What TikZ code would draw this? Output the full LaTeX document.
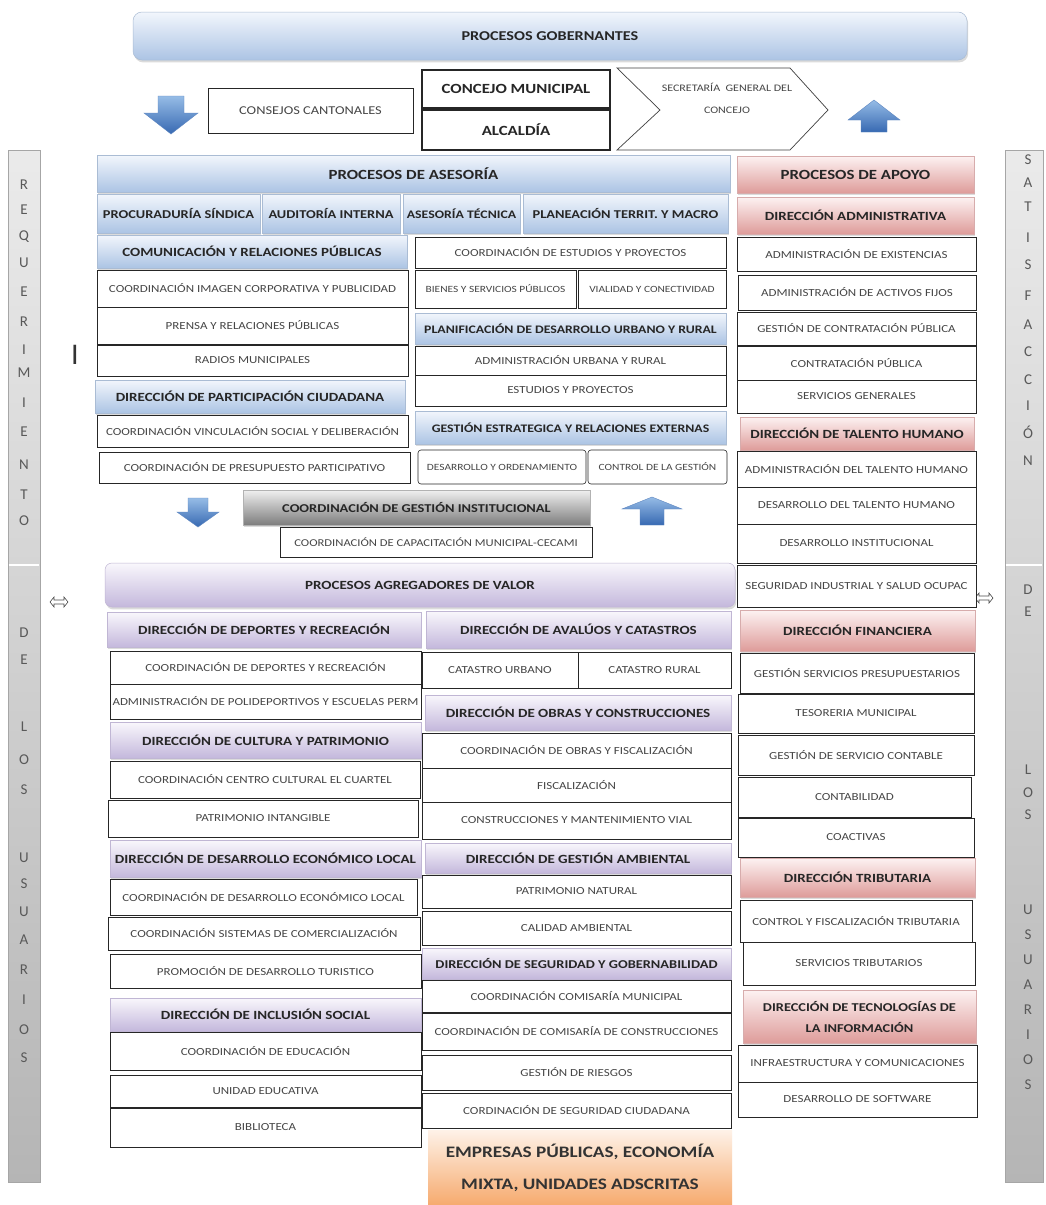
\documentclass[tikz,border=0pt]{standalone}
\usepackage{fontspec}
\setmainfont{Carlito}[FakeStretch=1.2]
\newfontfamily\barfont{Carlito}
\usetikzlibrary{shadows}

\definecolor{blueTop}{RGB}{242,246,252}
\definecolor{blueBot}{RGB}{172,196,228}
\definecolor{blueEdge}{RGB}{170,188,212}
\definecolor{pinkTop}{RGB}{253,242,242}
\definecolor{pinkBot}{RGB}{222,156,154}
\definecolor{pinkEdge}{RGB}{215,172,172}
\definecolor{lavTop}{RGB}{249,247,252}
\definecolor{lavBot}{RGB}{196,184,220}
\definecolor{lavEdge}{RGB}{192,182,212}
\definecolor{grayTop}{RGB}{240,240,240}
\definecolor{grayBot}{RGB}{125,125,125}
\definecolor{orTop}{RGB}{254,242,232}
\definecolor{orBot}{RGB}{246,170,110}
\definecolor{arrowTop}{RGB}{150,188,230}
\definecolor{arrowBot}{RGB}{55,105,178}
\definecolor{txt}{RGB}{70,70,70}

% box given by its corners (x1,y1) (x2,y2) in pixel units, y downwards
\newcommand\bx[7][]{%
  \node[#1, minimum width={(#5-#3)*1pt}, minimum height={(#6-#4)*1pt}]
    (#2) at ({(#3+#5)/2},{(#4+#6)/2}) {\makebox[0pt]{#7}};}
% same, for text on several lines
\newcommand\bxm[7][]{%
  \node[#1, minimum width={(#5-#3)*1pt}, minimum height={(#6-#4)*1pt}]
    (#2) at ({(#3+#5)/2},{(#4+#6)/2}) {#7};}

\tikzset{
  every node/.style={inner sep=1pt, outer sep=0pt, align=center},
  hb/.style={font=\bfseries\fontsize{#1}{16}\selectfont},
  rb/.style={font=\fontsize{#1}{12}\selectfont},
  unit/.style={draw=black!85, line width=0.9pt, fill=white, text=txt, rb=10.8},
  softshadow/.style={drop shadow={opacity=0.28, shadow xshift=1.2pt, shadow yshift=-2.4pt}},
  head/.style={softshadow, line width=0.5pt, text=black!85, hb=12.5},
  headB/.style={head, draw=blueEdge, top color=blueTop, bottom color=blueBot},
  headP/.style={head, draw=pinkEdge, top color=pinkTop, bottom color=pinkBot},
  headL/.style={head, draw=lavEdge, top color=lavTop, bottom color=lavBot},
  headG/.style={head, draw=gray!60, top color=grayTop, bottom color=grayBot},
  tier/.style={rounded corners=7pt, hb=13.5},
  blockarrow/.style={top color=arrowTop, bottom color=arrowBot, draw=arrowBot!80, line width=0.4pt},
  sidebar/.style={draw=gray!70, line width=0.6pt, top color=gray!16, bottom color=gray!58},
  barletter/.style={font=\barfont\fontsize{15}{15}\selectfont, text=black!65},
  dblarrow/.style={draw=black!70, line width=0.6pt, fill=white},
}

\begin{document}
\begin{tikzpicture}[x=1pt, y=-1pt]
\useasboundingbox (0,0) rectangle (1045,1205);
\fill[white] (0,0) rectangle (1045,1205);

% ---------- side bars ----------
\bx[sidebar]{lbar}{8}{150}{40}{1182}{}
\bx[sidebar]{rbar}{1005}{150}{1043}{1182}{}
\draw[white, line width=1.6pt] (8.6,565) -- (39.4,565);
\draw[white, line width=1.6pt] (1005.6,565) -- (1042.4,565);
\foreach \ch/\yy in {R/185, E/210, Q/237, U/263, E/292, R/322, I/350, M/373, I/403,
  E/432, N/465, T/495, O/521, D/633, E/660, L/727, O/760, S/790,
  U/858, S/884, U/912, A/940, R/970, I/1000, O/1030, S/1058}
  \node[barletter] (req\yy) at (24,\yy) {\ch};
\foreach \ch/\yy in {S/160, A/183, T/207, I/238, S/265, F/296, A/325, C/352, C/380,
  I/406, Ó/432, N/461, D/590, E/612, L/770, O/793, S/815,
  U/910, S/935, U/960, A/985, R/1010, I/1035, O/1060, S/1085}
  \node[barletter] (sat\yy) at (1028,\yy) {\ch};
\node[font=\barfont\fontsize{30}{30}\selectfont, text=black!80] (mark) at (75,355) {I};

% hollow double arrows beside the bars
\path[dblarrow] (50,602) -- (54,597) -- (54,600) -- (64,600) -- (64,597) -- (68,602)
  -- (64,607) -- (64,604) -- (54,604) -- (54,607) -- cycle;
\path[dblarrow] (975,598) -- (979,593) -- (979,596) -- (989,596) -- (989,593) -- (993,598)
  -- (989,603) -- (989,600) -- (979,600) -- (979,603) -- cycle;

% ---------- governing processes ----------
\bx[headB, tier, rounded corners=9pt]{gob}{133}{12}{967}{60}{PROCESOS GOBERNANTES}
\path[blockarrow] (158,96) -- (184,96) -- (184,113) -- (198,113) -- (171,134) -- (144,113) -- (158,113) -- cycle;
\path[blockarrow] (874,100) -- (900,120) -- (887,120) -- (887,132) -- (861,132) -- (861,120) -- (848,120) -- cycle;
\bx[unit, rb=12]{consejos}{208}{88}{413}{133}{CONSEJOS CANTONALES}
\bx[unit, line width=1.2pt, text=black!85, hb=14]{concejo}{422}{70}{610}{108}{CONCEJO MUNICIPAL}
\bx[unit, line width=1.2pt, text=black!85, hb=14]{alcaldia}{422}{110}{610}{150}{ALCALDÍA}
\draw[black!75, line width=0.7pt, fill=white] (617,68) -- (790,68) -- (828,110) -- (790,150) -- (617,150) -- (660,110) -- cycle;
\node[text=txt, font=\fontsize{10}{22}\selectfont] (secret) at (727,98) {SECRETARÍA\ \ GENERAL DEL\\CONCEJO};

% ---------- advisory processes ----------
\bx[headB, hb=14]{asesoria}{97}{155}{730}{192}{PROCESOS DE ASESORÍA}
\bx[headB, hb=12]{sindica}{97}{194}{260}{233}{PROCURADURÍA SÍNDICA}
\bx[headB, hb=12]{auditoria}{262}{194}{400}{233}{AUDITORÍA INTERNA}
\bx[headB, hb=11.5]{asetec}{403}{194}{520}{233}{ASESORÍA TÉCNICA}
\bx[headB, hb=12]{planea}{523}{194}{728}{233}{PLANEACIÓN TERRIT. Y MACRO}

\bx[headB]{comun}{97}{235}{407}{268}{COMUNICACIÓN Y RELACIONES PÚBLICAS}
\bx[unit]{imagen}{97}{270}{408}{307}{COORDINACIÓN IMAGEN CORPORATIVA Y PUBLICIDAD}
\bx[unit]{prensa}{97}{307}{408}{344}{PRENSA Y RELACIONES PÚBLICAS}
\bx[unit]{radios}{97}{345}{408}{376}{RADIOS MUNICIPALES}
\bx[headB]{particip}{95}{380}{405}{413}{DIRECCIÓN DE PARTICIPACIÓN CIUDADANA}
\bx[unit]{vincul}{97}{415}{408}{447}{COORDINACIÓN VINCULACIÓN SOCIAL Y DELIBERACIÓN}
\bx[unit]{presup}{99}{452}{410}{483}{COORDINACIÓN DE PRESUPUESTO PARTICIPATIVO}

\bx[unit]{estudios}{415}{237}{726}{268}{COORDINACIÓN DE ESTUDIOS Y PROYECTOS}
\bx[unit, rb=9.5]{bienes}{415}{270}{576}{308}{BIENES Y SERVICIOS PÚBLICOS}
\bx[unit, rb=9.5]{vialidad}{578}{270}{726}{308}{VIALIDAD Y CONECTIVIDAD}
\bx[headB, hb=11.5]{planurb}{415}{313}{726}{344}{PLANIFICACIÓN DE DESARROLLO URBANO Y RURAL}
\bx[unit]{adminurb}{415}{346}{726}{375}{ADMINISTRACIÓN URBANA Y RURAL}
\bx[unit]{estproy}{415}{375}{726}{406}{ESTUDIOS Y PROYECTOS}
\bx[headB, hb=11.5]{gestest}{415}{411}{726}{444}{GESTIÓN ESTRATEGICA Y RELACIONES EXTERNAS}
\bx[unit, rb=9.5, rounded corners=3pt, line width=0.6pt]{ordena}{418}{450}{586}{484}{DESARROLLO Y ORDENAMIENTO}
\bx[unit, rb=9.5, rounded corners=3pt, line width=0.6pt]{control}{588}{450}{727}{484}{CONTROL DE LA GESTIÓN}

% ---------- institutional coordination ----------
\path[blockarrow] (188,498) -- (208,498) -- (208,512) -- (219,512) -- (198,527) -- (177,512) -- (188,512) -- cycle;
\path[blockarrow] (652,497) -- (682,509) -- (664,509) -- (664,525) -- (640,525) -- (640,509) -- (622,509) -- cycle;
\bx[headG, hb=12]{gestinst}{243}{490}{590}{525}{COORDINACIÓN DE GESTIÓN INSTITUCIONAL}
\bx[unit, rb=10.5]{cecami}{280}{527}{592}{557}{COORDINACIÓN DE CAPACITACIÓN MUNICIPAL-CECAMI}

% ---------- value-adding processes ----------
\bx[headL, tier, hb=12.5]{agreg}{105}{563}{735}{607}{PROCESOS AGREGADORES DE VALOR}

\bx[headL]{deportes}{107}{612}{421}{647}{DIRECCIÓN DE DEPORTES Y RECREACIÓN}
\bx[unit]{coordep}{110}{651}{421}{684}{COORDINACIÓN DE DEPORTES Y RECREACIÓN}
\bx[unit]{polidep}{110}{684}{421}{719}{ADMINISTRACIÓN DE POLIDEPORTIVOS Y ESCUELAS PERM}
\bx[headL]{cultura}{110}{722}{421}{758}{DIRECCIÓN DE CULTURA Y PATRIMONIO}
\bx[unit]{cuartel}{110}{761}{420}{798}{COORDINACIÓN CENTRO CULTURAL EL CUARTEL}
\bx[unit]{intang}{108}{800}{418}{837}{PATRIMONIO INTANGIBLE}
\bx[headL]{econ}{110}{840}{421}{877}{DIRECCIÓN DE DESARROLLO ECONÓMICO LOCAL}
\bx[unit]{coorecon}{110}{879}{417}{915}{COORDINACIÓN DE DESARROLLO ECONÓMICO LOCAL}
\bx[unit]{comerc}{108}{917}{420}{950}{COORDINACIÓN SISTEMAS DE COMERCIALIZACIÓN}
\bx[unit]{turist}{110}{954}{421}{988}{PROMOCIÓN DE DESARROLLO TURISTICO}
\bx[headL]{inclus}{110}{998}{421}{1031}{DIRECCIÓN DE INCLUSIÓN SOCIAL}
\bx[unit]{educ}{110}{1032}{421}{1070}{COORDINACIÓN DE EDUCACIÓN}
\bx[unit]{unidad}{110}{1075}{421}{1107}{UNIDAD EDUCATIVA}
\bx[unit]{biblio}{110}{1108}{421}{1147}{BIBLIOTECA}

\bx[headL]{avaluos}{426}{611}{731}{648}{DIRECCIÓN DE AVALÚOS Y CATASTROS}
\bx[unit]{caturb}{422}{652}{578}{688}{CATASTRO URBANO}
\bx[unit]{catrur}{578}{652}{731}{688}{CATASTRO RURAL}
\bx[headL]{obras}{425}{695}{731}{730}{DIRECCIÓN DE OBRAS Y CONSTRUCCIONES}
\bx[unit]{coorobras}{422}{733}{731}{768}{COORDINACIÓN DE OBRAS Y FISCALIZACIÓN}
\bx[unit]{fiscal}{422}{768}{731}{802}{FISCALIZACIÓN}
\bx[unit]{construc}{422}{802}{731}{839}{CONSTRUCCIONES Y MANTENIMIENTO VIAL}
\bx[headL]{ambiental}{425}{843}{731}{873}{DIRECCIÓN DE GESTIÓN AMBIENTAL}
\bx[unit]{patnat}{422}{875}{731}{908}{PATRIMONIO NATURAL}
\bx[unit]{calidad}{422}{911}{731}{945}{CALIDAD AMBIENTAL}
\bx[headL, hb=12]{segur}{422}{948}{731}{979}{DIRECCIÓN DE SEGURIDAD Y GOBERNABILIDAD}
\bx[unit]{comisaria}{422}{980}{731}{1012}{COORDINACIÓN COMISARÍA MUNICIPAL}
\bx[unit]{comcons}{422}{1013}{731}{1050}{COORDINACIÓN DE COMISARÍA DE CONSTRUCCIONES}
\bx[unit]{riesgos}{422}{1055}{731}{1090}{GESTIÓN DE RIESGOS}
\bx[unit]{ciudadana}{422}{1093}{731}{1128}{CORDINACIÓN DE SEGURIDAD CIUDADANA}
\bxm[top color=orTop, bottom color=orBot, text=black!80, font=\bfseries\fontsize{16}{32}\selectfont]{empresas}{428}{1130}{732}{1205}{EMPRESAS PÚBLICAS, ECONOMÍA\\MIXTA, UNIDADES ADSCRITAS}

% ---------- support processes ----------
\bx[headP, hb=14]{apoyo}{737}{156}{974}{193}{PROCESOS DE APOYO}
\bx[headP]{dadmin}{737}{197}{974}{234}{DIRECCIÓN ADMINISTRATIVA}
\bx[unit]{exist}{737}{237}{976}{271}{ADMINISTRACIÓN DE EXISTENCIAS}
\bx[unit]{activos}{738}{275}{976}{310}{ADMINISTRACIÓN DE ACTIVOS FIJOS}
\bx[unit]{gestcont}{737}{312}{976}{345}{GESTIÓN DE CONTRATACIÓN PÚBLICA}
\bx[unit]{contrat}{737}{346}{976}{380}{CONTRATACIÓN PÚBLICA}
\bx[unit]{servgen}{737}{380}{976}{413}{SERVICIOS GENERALES}
\bx[headP]{talento}{740}{417}{974}{450}{DIRECCIÓN DE TALENTO HUMANO}
\bx[unit]{admtal}{737}{451}{976}{487}{ADMINISTRACIÓN DEL TALENTO HUMANO}
\bx[unit]{destal}{737}{487}{976}{524}{DESARROLLO DEL TALENTO HUMANO}
\bx[unit]{desinst}{737}{524}{976}{563}{DESARROLLO INSTITUCIONAL}
\bx[unit]{segind}{737}{565}{976}{607}{SEGURIDAD INDUSTRIAL Y SALUD OCUPAC}
\bx[headP]{financ}{740}{610}{975}{651}{DIRECCIÓN FINANCIERA}
\bx[unit]{presupst}{740}{653}{974}{693}{GESTIÓN SERVICIOS PRESUPUESTARIOS}
\bx[unit]{tesor}{738}{694}{974}{733}{TESORERIA MUNICIPAL}
\bx[unit]{contable}{738}{735}{974}{775}{GESTIÓN DE SERVICIO CONTABLE}
\bx[unit]{contab}{738}{777}{971}{817}{CONTABILIDAD}
\bx[unit]{coact}{738}{818}{974}{857}{COACTIVAS}
\bx[headP]{tribut}{740}{858}{975}{897}{DIRECCIÓN TRIBUTARIA}
\bx[unit]{fisctrib}{740}{900}{972}{942}{CONTROL Y FISCALIZACIÓN TRIBUTARIA}
\bx[unit]{servtrib}{743}{942}{975}{985}{SERVICIOS TRIBUTARIOS}
\bxm[headP, font=\bfseries\fontsize{12}{21}\selectfont]{tecno}{743}{990}{976}{1043}{DIRECCIÓN DE TECNOLOGÍAS DE\\LA INFORMACIÓN}
\bx[unit]{infra}{738}{1045}{977}{1082}{INFRAESTRUCTURA Y COMUNICACIONES}
\bx[unit]{software}{738}{1082}{977}{1117}{DESARROLLO DE SOFTWARE}
\end{tikzpicture}
\end{document}
